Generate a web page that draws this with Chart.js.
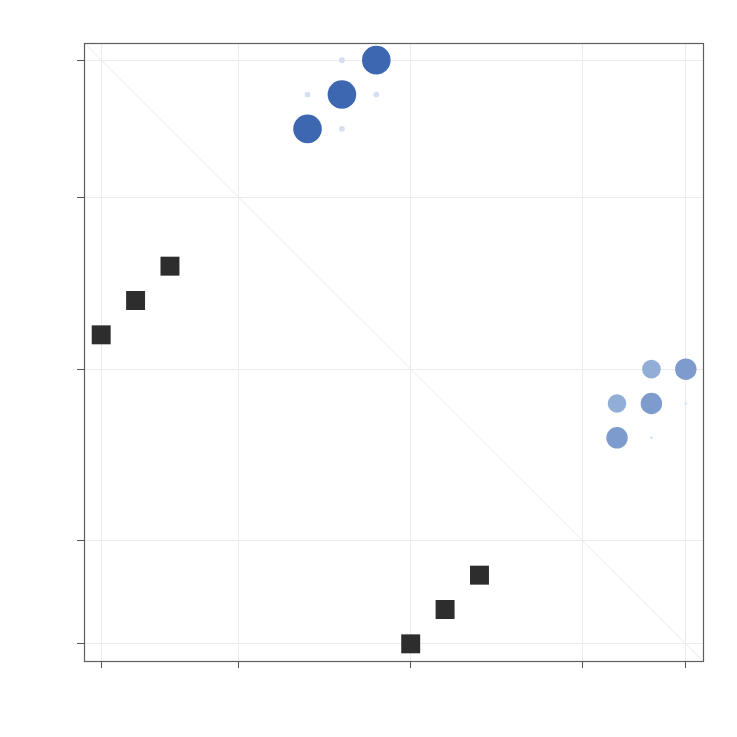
<!DOCTYPE html>
<html>
<head>
<meta charset="utf-8">
<script src="https://cdn.jsdelivr.net/npm/chart.js@4"></script>
<style>
  html, body { margin: 0; padding: 0; background: #fff; }
</style>
</head>
<body>
<canvas id="matrixChart" width="737" height="737"></canvas>
<script>
// axis limits and tick positions
const axisRange = [-0.5, 17.5];
const xTicks = [0, 4, 9, 14, 17];
const yTicks = [0, 3, 8, 13, 17];

// dark square markers
const squareX = [0, 1, 2, 9, 10, 11];
const squareY = [9, 10, 11, 0, 1, 2];

// blue circles, sized and shaded by value
const circleX = [8, 7, 6, 7, 6, 8, 7, 17, 16, 15, 16, 15, 17, 16];
const circleY = [17, 16, 15, 17, 16, 16, 15, 8, 7, 6, 8, 7, 7, 6];
const circleValue = [1, 1, 1, 0.2, 0.2, 0.2, 0.2, 0.75, 0.75, 0.75, 0.65, 0.65, 0.1, 0.1];

const light = [219, 231, 246];
const dark = [61, 104, 177];
function shade(v) {
  const t = Math.pow(v, 1.8);
  const c = light.map((l, i) => Math.round(l + (dark[i] - l) * t));
  return 'rgb(' + c.join(',') + ')';
}

const squares = squareX.map((x, i) => ({ x: x, y: squareY[i] }));
const circles = circleX.map((x, i) => ({ x: x, y: circleY[i], v: circleValue[i] }));

// full box round the plot area
const frame = {
  id: 'frame',
  afterDraw(chart) {
    const a = chart.chartArea;
    const ctx = chart.ctx;
    ctx.save();
    ctx.strokeStyle = '#5e5e5e';
    ctx.lineWidth = 1.2;
    ctx.strokeRect(a.left + 0.5, a.top + 0.5, a.right - a.left, a.bottom - a.top);
    ctx.restore();
  }
};

new Chart(document.getElementById('matrixChart'), {
  type: 'scatter',
  data: {
    datasets: [
      {
        type: 'line',
        data: [{ x: axisRange[0], y: axisRange[1] }, { x: axisRange[1], y: axisRange[0] }],
        borderColor: '#ececec',
        borderWidth: 1,
        pointRadius: 0,
        fill: false,
        order: 3,
      },
      {
        data: circles,
        pointStyle: 'circle',
        pointRadius: ctx => ctx.raw.v * 14.3,
        backgroundColor: ctx => shade(ctx.raw.v),
        borderWidth: 0,
        order: 2,
      },
      {
        data: squares,
        pointStyle: 'rect',
        pointRadius: 13.4,
        backgroundColor: '#2d2d2d',
        borderWidth: 0,
        order: 1,
      },
    ],
  },
  options: {
    responsive: false,
    animation: false,
    layout: { padding: { top: 43, right: 34, left: 0, bottom: 0 } },
    plugins: { legend: { display: false }, tooltip: { enabled: false } },
    scales: {
      x: {
        type: 'linear',
        min: axisRange[0],
        max: axisRange[1],
        afterBuildTicks: s => { s.ticks = xTicks.map(v => ({ value: v })); },
        afterFit: s => { s.height = 76; },
        ticks: { display: false },
        grid: { color: '#ebebeb', tickColor: '#555', tickLength: 7, lineWidth: 1 },
        border: { display: false },
      },
      y: {
        type: 'linear',
        min: axisRange[0],
        max: axisRange[1],
        afterBuildTicks: s => { s.ticks = yTicks.map(v => ({ value: v })); },
        afterFit: s => { s.width = 84; },
        ticks: { display: false },
        grid: { color: '#ebebeb', tickColor: '#555', tickLength: 7, lineWidth: 1 },
        border: { display: false },
      },
    },
  },
  plugins: [frame],
});
</script>
</body>
</html>
